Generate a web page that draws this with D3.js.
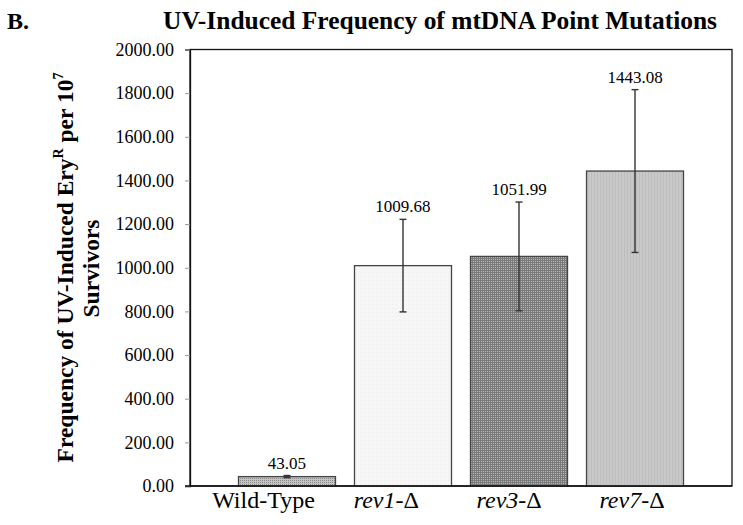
<!DOCTYPE html>
<html>
<head>
<meta charset="utf-8">
<script src="https://cdn.jsdelivr.net/npm/d3@7"></script>
<style>
  html, body { margin: 0; padding: 0; background: #fff; }
  svg { display: block; }
  text { font-family: "Liberation Serif", "Times New Roman", serif; fill: #000; }
</style>
</head>
<body>
<svg id="chart" width="743" height="525"></svg>
<script>
// ---- data ----
const categories = ["Wild-Type", "rev1-Δ", "rev3-Δ", "rev7-Δ"];
const values = [43.05, 1009.68, 1051.99, 1443.08];
const errors = [5, 212, 249, 373];
const valueLabels = ["43.05", "1009.68", "1051.99", "1443.08"];
const yTicks = [0, 200, 400, 600, 800, 1000, 1200, 1400, 1600, 1800, 2000];
const title = "UV-Induced Frequency of mtDNA Point Mutations";
const panelLabel = "B.";

// ---- layout ----
const svg = d3.select("#chart");
const L = 190, R = 732, T = 49.5, B = 486;

const x = d3.scaleBand().domain(categories).range([L, R])
  .paddingInner(0.1638).paddingOuter(0.418);
const xLab = d3.scalePoint().domain(categories).range([263.5, 632]);
const y = d3.scaleLinear().domain([0, 2000]).range([B, T]);

// patterns
const defs = svg.append("defs");
function pat(id, bg, fg, size, draw) {
  const p = defs.append("pattern").attr("id", id).attr("patternUnits", "userSpaceOnUse")
    .attr("width", size).attr("height", size);
  p.append("rect").attr("width", size).attr("height", size).attr("fill", bg);
  draw(p, fg);
}
pat("pWT", "#c4c4c4", "#8a8a8a", 2, (p, fg) => {
  p.append("rect").attr("x", 0).attr("y", 0).attr("width", 1).attr("height", 1).attr("fill", fg);
});
pat("pR1", "#f6f6f6", "#ececec", 4, (p, fg) => {
  p.append("rect").attr("x", 0).attr("y", 0).attr("width", 1).attr("height", 1).attr("fill", fg);
});
pat("pR3", "#b8b8b8", "#7a7a7a", 2, (p, fg) => {
  p.append("rect").attr("x", 0).attr("y", 0).attr("width", 2).attr("height", 1).attr("fill", fg);
  p.append("rect").attr("x", 0).attr("y", 0).attr("width", 1).attr("height", 2).attr("fill", fg);
});
pat("pR7", "#c9c9c9", "#bdbdbd", 3, (p, fg) => {
  p.append("rect").attr("x", 0).attr("y", 0).attr("width", 1).attr("height", 3).attr("fill", fg);
});
const fills = ["url(#pWT)", "url(#pR1)", "url(#pR3)", "url(#pR7)"];

// frame
svg.append("rect").attr("x", L).attr("y", T).attr("width", R - L).attr("height", B - T)
  .attr("fill", "none").attr("stroke", "#111").attr("stroke-width", 1.3);

// bars
svg.append("g").selectAll("rect").data(categories).join("rect")
  .attr("x", d => x(d)).attr("width", x.bandwidth())
  .attr("y", (d, i) => y(values[i])).attr("height", (d, i) => y(0) - y(values[i]))
  .attr("fill", (d, i) => fills[i])
  .attr("stroke", "#444").attr("stroke-width", 1.3);

// error bars
const eg = svg.append("g").attr("stroke", "#333").attr("stroke-width", 1.4);
categories.forEach((c, i) => {
  const cx = x(c) + x.bandwidth() / 2;
  const lo = y(values[i] - errors[i]), hi = y(values[i] + errors[i]);
  eg.append("line").attr("x1", cx).attr("x2", cx).attr("y1", lo).attr("y2", hi);
  eg.append("line").attr("x1", cx - 3.5).attr("x2", cx + 3.5).attr("y1", lo).attr("y2", lo);
  eg.append("line").attr("x1", cx - 3.5).attr("x2", cx + 3.5).attr("y1", hi).attr("y2", hi);
  svg.append("text").attr("x", cx).attr("y", hi - 7)
    .attr("text-anchor", "middle").attr("font-size", 17).text(valueLabels[i]);
});

// y axis
const yAxis = svg.append("g").attr("transform", `translate(${L},0)`)
  .call(d3.axisLeft(y).tickValues(yTicks).tickFormat(d3.format(".2f")).tickSize(5).tickPadding(11));
yAxis.select(".domain").attr("stroke", "#111").attr("stroke-width", 1.3);
yAxis.selectAll(".tick line").attr("stroke", "#999");
yAxis.selectAll(".tick text").attr("font-size", 18)
  .attr("font-family", "'Liberation Serif', 'Times New Roman', serif").attr("fill", "#000");

// bottom axis line
svg.append("line").attr("x1", L - 5).attr("x2", R).attr("y1", B).attr("y2", B)
  .attr("stroke", "#111").attr("stroke-width", 1.3);

// x labels
categories.forEach(c => {
  const t = svg.append("text").attr("x", xLab(c)).attr("y", 508)
    .attr("text-anchor", "middle").attr("font-size", 24);
  const m = c.match(/^(rev\d)(-Δ)$/);
  if (m) {
    t.append("tspan").attr("font-style", "italic").text(m[1]);
    t.append("tspan").text(m[2]);
  } else {
    t.text(c);
  }
});

// title & panel label
svg.append("text").attr("x", 440).attr("y", 28.5).attr("text-anchor", "middle")
  .attr("font-size", 25).attr("font-weight", "bold")
  .attr("textLength", 554).attr("lengthAdjust", "spacingAndGlyphs").text(title);
svg.append("text").attr("x", 7).attr("y", 29).attr("font-size", 24)
  .attr("font-weight", "bold").text(panelLabel);

// y axis title
const yt = svg.append("text").attr("transform", "translate(73,267.5) rotate(-90)")
  .attr("text-anchor", "middle").attr("font-size", 23.5).attr("font-weight", "bold");
yt.append("tspan").text("Frequency of UV-Induced Ery");
yt.append("tspan").attr("font-size", 14).attr("dy", -10).text("R");
yt.append("tspan").attr("dy", 10).text(" per 10");
yt.append("tspan").attr("font-size", 14).attr("dy", -10).text("7");
svg.append("text").attr("transform", "translate(99,268.5) rotate(-90)")
  .attr("text-anchor", "middle").attr("font-size", 23.5).attr("font-weight", "bold").text("Survivors");
</script>
</body>
</html>
